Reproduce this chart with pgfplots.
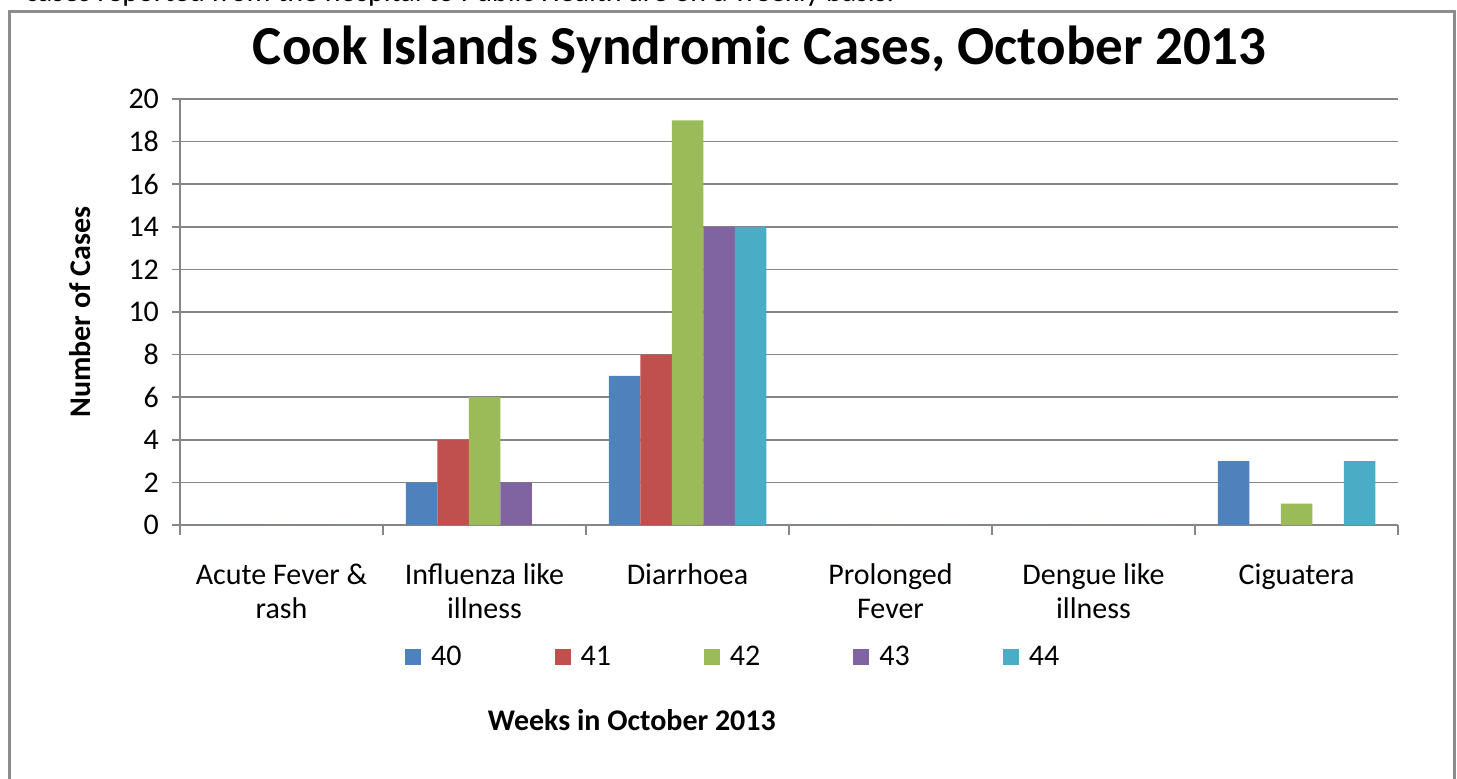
\documentclass[border=0pt]{standalone}
\usepackage{fontspec}
\setmainfont{Carlito}
\usepackage{pgfplots}
\pgfplotsset{compat=1.18}
\definecolor{c40}{HTML}{4F81BD}
\definecolor{c41}{HTML}{C0504D}
\definecolor{c42}{HTML}{9BBB59}
\definecolor{c43}{HTML}{8064A2}
\definecolor{c44}{HTML}{4BACC6}
\definecolor{gridgray}{HTML}{868686}
\definecolor{framegray}{HTML}{8C8C8C}
\begin{document}
\begin{tikzpicture}
\useasboundingbox (0pt,0pt) rectangle (728.5pt,-389pt);
\clip (0pt,0pt) rectangle (728.5pt,-389pt);
\fill[white] (0pt,0pt) rectangle (728.5pt,-389pt);
\draw[framegray, line width=1.5pt] (4.5pt,-5.5pt) rectangle (727pt,-420pt);
\node[anchor=base west, inner sep=0pt, font=\fontsize{15}{18}\selectfont] at (12.5pt,-0.9pt) {cases reported from the hospital to Public Health are on a weekly basis.};
\begin{axis}[
  at={(90pt,-262.5pt)}, anchor=south west,
  scale only axis, width=609pt, height=213pt,
  ybar=0pt, bar width=15.75pt,
  ymin=0, ymax=20, ytick={0,2,...,20},
  xmin=-0.5, xmax=5.5,
  xtick={0,...,5},
  xticklabels={{Acute Fever \&\\rash},{Influenza like\\illness},{Diarrhoea},{Prolonged\\Fever},{Dengue like\\illness},{Ciguatera}},
  minor xtick={-0.5,0.5,...,5.5},
  major x tick style={draw=none},
  tick align=outside,
  major tick length=4pt, minor tick length=5pt,
  tick style={gridgray, line width=0.75pt},
  axis x line*=bottom, axis y line*=left,
  axis line style={gridgray, line width=0.75pt},
  ymajorgrids, grid style={gridgray, line width=0.75pt},
  /pgf/number format/assume math mode=true,
  yticklabel style={font=\fontsize{15}{17}\selectfont, xshift=-3pt},
  xticklabel style={font=\fontsize{15}{17}\selectfont, align=center, anchor=north, yshift=-12pt},
  title={Cook Islands Syndromic Cases, October 2013},
  title style={font=\fontsize{27.5}{30}\selectfont\bfseries, at={(axis description cs:0.476,1.087)}, anchor=center},
  ylabel={Number of Cases},
  ylabel style={font=\fontsize{15}{17}\selectfont\bfseries, at={(axis description cs:-0.082,0.5)}, anchor=center, rotate=0},
  xlabel={Weeks in October 2013},
  xlabel style={font=\fontsize{15}{17}\selectfont\bfseries, at={(axis description cs:0.371,-0.458)}, anchor=center},
  legend columns=5,
  legend style={draw=none, fill=none, at={(axis description cs:0.455,-0.31)}, anchor=center,
    font=\fontsize{15}{17}\selectfont,
    /tikz/every odd column/.append style={column sep=3pt},
    /tikz/every even column/.append style={column sep=44.5pt}},
  legend image code/.code={\fill[#1] (0pt,-4pt) rectangle (8pt,4pt);},
]
\addplot[fill=c40, draw=none] coordinates {(0,0) (1,2) (2,7) (3,0) (4,0) (5,3)};
\addplot[fill=c41, draw=none] coordinates {(0,0) (1,4) (2,8) (3,0) (4,0) (5,0)};
\addplot[fill=c42, draw=none] coordinates {(0,0) (1,6) (2,19) (3,0) (4,0) (5,1)};
\addplot[fill=c43, draw=none] coordinates {(0,0) (1,2) (2,14) (3,0) (4,0) (5,0)};
\addplot[fill=c44, draw=none] coordinates {(0,0) (1,0) (2,14) (3,0) (4,0) (5,3)};
\legend{40,41,42,43,44}
\end{axis}
\end{tikzpicture}
\end{document}
